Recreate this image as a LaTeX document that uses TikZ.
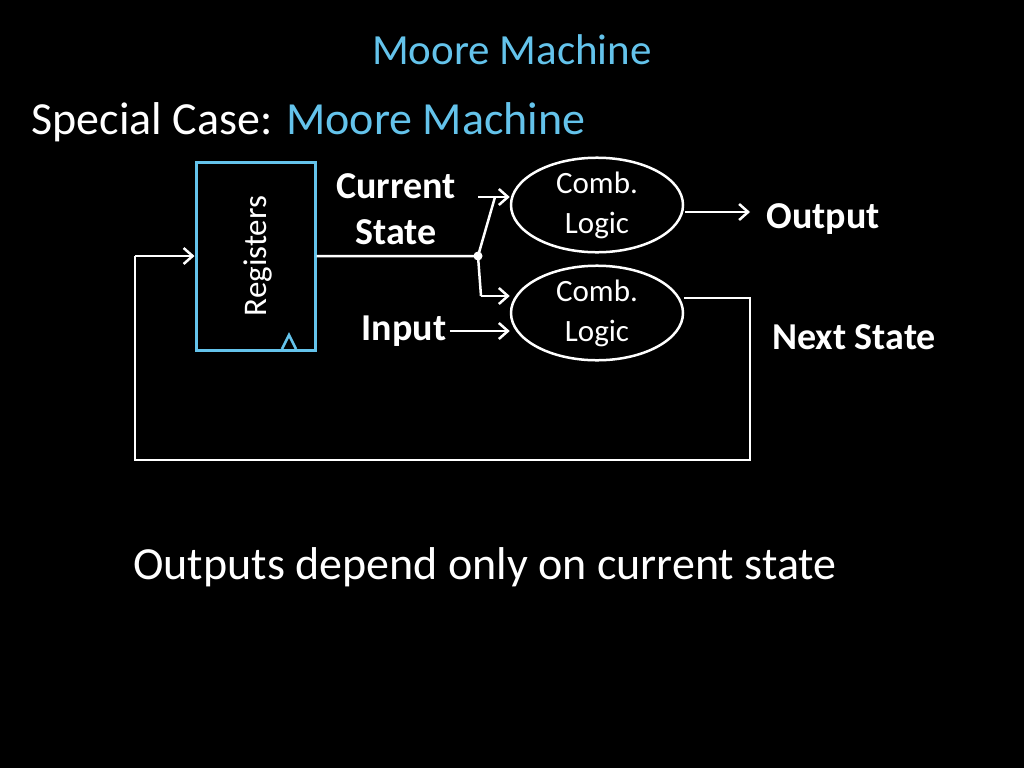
\documentclass[tikz,border=0pt]{standalone}
\usepackage{fontspec}
\setmainfont{Carlito}
\usetikzlibrary{arrows.meta,shapes.geometric}
\definecolor{sky}{RGB}{100,195,235}
\tikzset{
  wire/.style = {draw=white, line width=2.5pt},
  arr/.style = {wire, -{Straight Barb[length=9pt,width=16pt]}},
  logic/.style = {draw=white, line width=2.5pt, ellipse, minimum width=172pt, minimum height=84pt, inner sep=0pt, align=center, text=white, font=\fontsize{31}{40}\selectfont},
  lbl/.style = {text=white, font=\bfseries\fontsize{38}{46}\selectfont, align=center}
}
\begin{document}
\begin{tikzpicture}[x=1pt, y=-1pt]
  \fill[black] (0,0) rectangle (1024,768);
  \useasboundingbox (0,0) rectangle (1024,768);
  % titles
  \node[text=sky, font=\fontsize{43}{50}\selectfont] (title) at (512,50) {Moore Machine};
  \node[anchor=west, text=white, font=\fontsize{46}{54}\selectfont] (sub) at (28,122) {Special Case: \textcolor{sky}{Moore Machine}};
  % registers
  \node[draw=sky, line width=3pt, minimum width=119pt, minimum height=188pt] (reg) at (255.5,256) {};
  \node[rotate=90, text=white, font=\fontsize{33}{38}\selectfont] (regtxt) at (258,256) {Registers};
  \draw[sky, line width=2.5pt] (282,349) -- (289,335) -- (296,349);
  % logic blocks
  \node[logic] (outl) at (597,205) {Comb.\\Logic};
  \node[logic] (nxtl) at (597,313) {Comb.\\Logic};
  % labels
  \node[lbl] (cur) at (396,209) {Current\\State};
  \node[lbl] (inp) at (404,331) {Input};
  \node[lbl] (out) at (823,219) {Output};
  \node[lbl] (nxt) at (854,337) {Next State};
  % wires
  \coordinate (dot) at (478,256);
  \coordinate (up) at (495,197);
  \coordinate (dn) at (481,296);
  \coordinate (fb) at (750,460);
  \fill[white] (dot) circle (4.5pt);
  \draw[wire] (reg.east) -- (dot) -- (up);
  \draw[arr] (478,197) -- (outl.west |- up);
  \draw[wire] (dot) -- (dn);
  \draw[arr] (dn) -- (nxtl.west |- dn);
  \draw[arr] (inp.east) -- (nxtl.west |- inp.east);
  \draw[arr] (685,212) -- (750,212);
  \draw[wire] (nxtl.east |- 0,298) -- (fb |- 0,298) -- (fb) -- (135,460) -- (135,256);
  \draw[arr] (135,256) -- (reg.west);
  % note
  \node[text=white, font=\fontsize{46}{54}\selectfont] (note) at (485,567) {Outputs depend only on current state};
\end{tikzpicture}
\end{document}
